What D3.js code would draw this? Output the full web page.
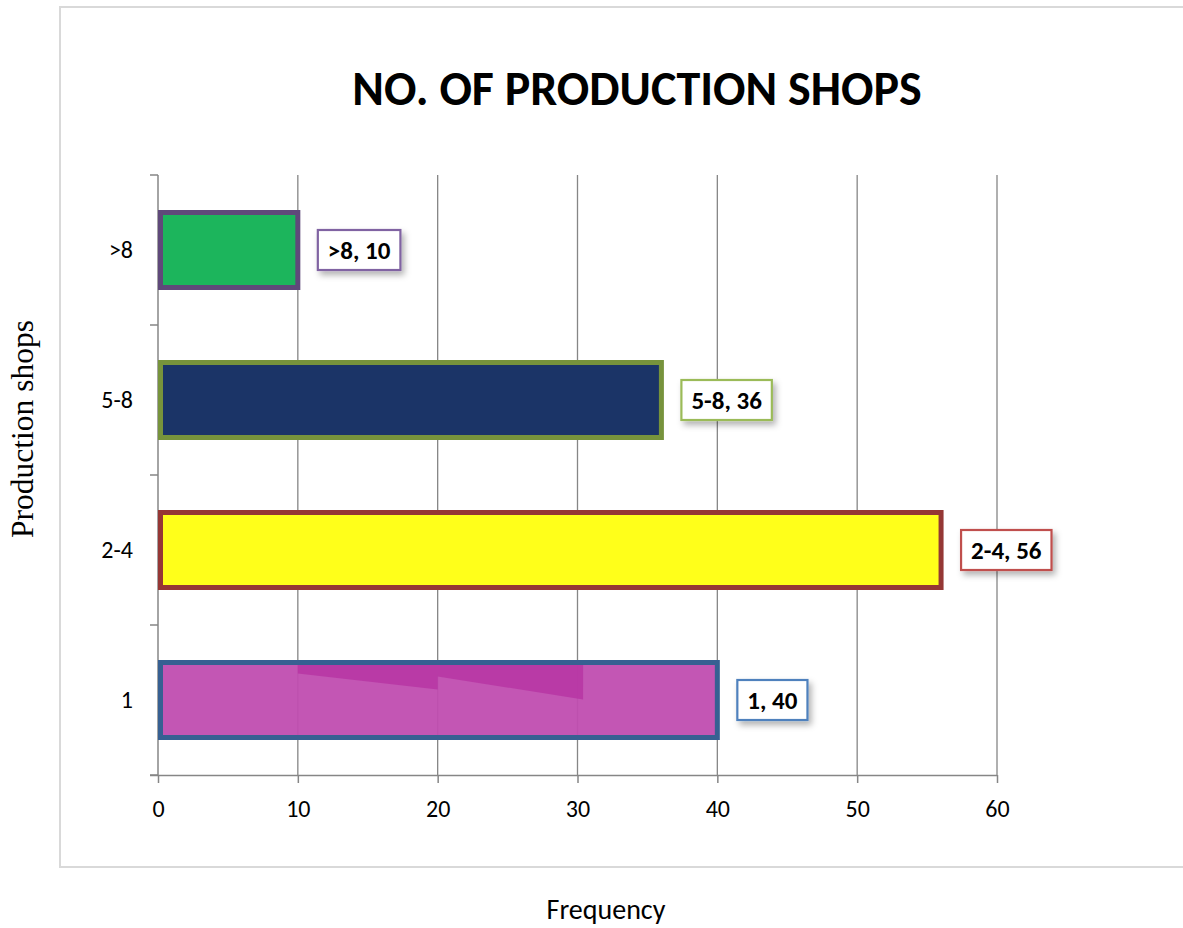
<!DOCTYPE html>
<html>
<head>
<meta charset="utf-8">
<script src="https://cdn.jsdelivr.net/npm/d3@7"></script>
<style>
  html, body { margin: 0; padding: 0; background: #fff; }
  svg { display: block; }
</style>
</head>
<body>
<svg id="chart" width="1183" height="928"></svg>
<script>
// ---- data ----
const categories = ["1", "2-4", "5-8", ">8"];
const values = [40, 56, 36, 10];
const xTicks = [0, 10, 20, 30, 40, 50, 60];
const fillColors = ["#c04db0", "#ffff1a", "#1b3467", "#1cb55c"];
const strokeColors = ["#376092", "#953735", "#77933c", "#5f497a"];
const labelBorders = ["#4f81bd", "#c0504d", "#9bbb59", "#8064a2"];
const titleText = "NO. OF PRODUCTION SHOPS";
const xTitle = "Frequency";
const yTitle = "Production shops";

const svg = d3.select("#chart");
const calibri = "Carlito, Calibri, Lato, 'Open Sans', sans-serif";

// filter for label shadow
const defs = svg.append("defs");
const f = defs.append("filter").attr("id", "shadow").attr("x", "-30%").attr("y", "-30%").attr("width", "170%").attr("height", "190%");
f.append("feDropShadow").attr("dx", 3).attr("dy", 4).attr("stdDeviation", 3).attr("flood-color", "#000").attr("flood-opacity", 0.3);

// chart frame
svg.append("rect").attr("x", 60).attr("y", 7).attr("width", 1140).attr("height", 860)
  .attr("fill", "#fff").attr("stroke", "#d9d9d9").attr("stroke-width", 2);

const plot = { left: 158, right: 997, top: 175, bottom: 775 };

const x = d3.scaleLinear().domain([0, 60]).range([plot.left, plot.right]);
const y = d3.scaleBand().domain(categories.slice().reverse()).range([plot.top, plot.bottom])
  .paddingInner(0.5).paddingOuter(0.25);
const yb = d3.scaleBand().domain(categories.slice().reverse()).range([plot.top, plot.bottom]);

// gridlines
svg.append("g").selectAll("line").data(xTicks.filter(d => d > 0)).join("line")
  .attr("x1", d => x(d)).attr("x2", d => x(d))
  .attr("y1", plot.top).attr("y2", plot.bottom)
  .attr("stroke", "#868686").attr("stroke-width", 1.3);

// x axis
const xAxis = svg.append("g").attr("transform", `translate(0,${plot.bottom})`)
  .call(d3.axisBottom(x).tickValues(xTicks).tickSize(8).tickPadding(17));
xAxis.select(".domain").attr("stroke", "#868686").attr("stroke-width", 1.5)
  .attr("d", `M${plot.left - 8},0.5H${plot.right}`);
xAxis.selectAll(".tick line").attr("stroke", "#868686").attr("stroke-width", 1.5);
xAxis.selectAll(".tick text").attr("font-family", calibri).attr("font-size", 24).attr("fill", "#000");

// y axis (ticks at band boundaries)
const yAxisG = svg.append("g").attr("transform", `translate(${plot.left},0)`);
yAxisG.append("line").attr("x1", 0).attr("x2", 0).attr("y1", plot.top).attr("y2", plot.bottom)
  .attr("stroke", "#868686").attr("stroke-width", 1.5);
const bounds = categories.map(c => yb(c)).concat([plot.bottom]);
yAxisG.selectAll("line.tk").data(bounds).join("line").attr("class", "tk")
  .attr("x1", -8).attr("x2", 0).attr("y1", d => d).attr("y2", d => d)
  .attr("stroke", "#868686").attr("stroke-width", 1.5);
yAxisG.selectAll("text").data(categories).join("text")
  .attr("x", -25).attr("y", d => yb(d) + yb.bandwidth() / 2)
  .attr("dy", "0.35em").attr("text-anchor", "end")
  .attr("font-family", calibri).attr("font-size", 24).attr("fill", "#000")
  .text(d => d);

// bars
const bars = svg.append("g");
bars.selectAll("rect").data(categories).join("rect")
  .attr("x", x(0) + 2.5)
  .attr("y", (d) => y(d))
  .attr("width", (d, i) => x(values[i]) - x(0) - 2.5)
  .attr("height", y.bandwidth())
  .attr("fill", (d, i) => fillColors[i])
  .attr("fill-opacity", (d, i) => i === 0 ? 0.95 : 1)
  .attr("stroke", (d, i) => strokeColors[i])
  .attr("stroke-width", 5);

// subtle shading artifacts inside first bar
const b0 = y(categories[0]);
const shade = [[10, 20, 11, 27], [20, 30.4, 14, 37]];
bars.selectAll("polygon").data(shade).join("polygon")
  .attr("points", d => `${x(d[0])},${b0 + 2.5} ${x(d[1])},${b0 + 2.5} ${x(d[1])},${b0 + d[3]} ${x(d[0])},${b0 + d[2]}`)
  .attr("fill", "#b633a3").attr("opacity", 0.8);

// data labels
const labels = svg.append("g");
categories.forEach((c, i) => {
  const g = labels.append("g");
  const txt = `${c}, ${values[i]}`;
  const cx = x(values[i]) + 20;
  const cy = yb(c) + yb.bandwidth() / 2;
  const t = g.append("text").attr("x", cx + 10).attr("y", cy).attr("dy", "0.35em")
    .attr("font-family", calibri).attr("font-weight", "bold").attr("font-size", 25)
    .attr("fill", "#000").text(txt);
  const w = t.node().getComputedTextLength();
  g.insert("rect", "text").attr("x", cx).attr("y", cy - 20).attr("width", w + 20).attr("height", 40)
    .attr("fill", "#fff").attr("stroke", labelBorders[i]).attr("stroke-width", 2.2)
    .attr("filter", "url(#shadow)");
});

// title
svg.append("text").attr("x", 637).attr("y", 105).attr("text-anchor", "middle")
  .attr("font-family", calibri).attr("font-weight", "bold").attr("font-size", 48)
  .attr("fill", "#000").text(titleText);

// x title
svg.append("text").attr("x", 606).attr("y", 919).attr("text-anchor", "middle")
  .attr("font-family", calibri).attr("font-size", 28).attr("fill", "#000").text(xTitle);

// y title
svg.append("text").attr("transform", "translate(33,429) rotate(-90)").attr("text-anchor", "middle")
  .attr("font-family", "'Liberation Serif', 'Times New Roman', serif").attr("font-size", 31.5)
  .attr("fill", "#000").text(yTitle);
</script>
</body>
</html>
